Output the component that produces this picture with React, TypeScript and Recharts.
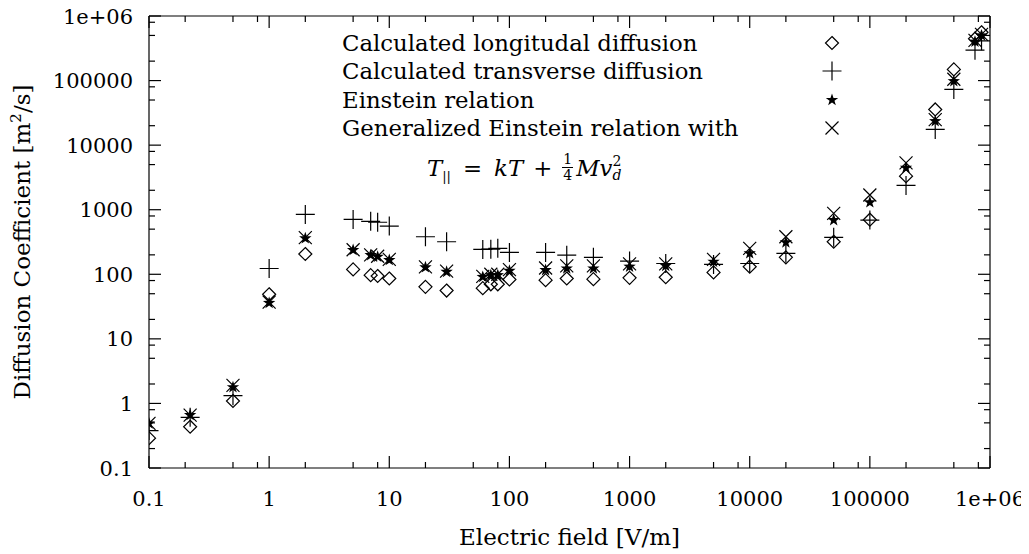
import React from "react";
import { ScatterChart, Scatter, XAxis, YAxis } from "recharts";

// electric field values (V/m) shared by all four series
const fieldValues = [0.1, 0.22, 0.5, 1, 2, 5, 7, 8, 10, 20, 30, 60, 70, 80, 100, 200, 300, 500, 1000, 2000, 5000, 10000, 20000, 50000, 100000, 200000, 350000, 500000, 750000, 850000];

const longitudinal = [0.29, 0.435, 1.09, 49, 206, 119, 97, 94, 86, 64, 56, 61, 70, 70, 83, 81, 86, 84, 88, 90, 107, 131, 183, 319, 700, 3310, 35700, 149000, 445000, 560000];
const transverse = [0.38, 0.61, 1.32, 123, 845, 708, 660, 640, 557, 381, 319, 243, 245, 252, 218, 218, 198, 183, 160, 147, 142, 147, 211, 373, 690, 2380, 17500, 72800, 296000, 412000];
const einstein = [0.49, 0.66, 1.78, 36, 360, 237, 198, 187, 166, 128, 109, 91, 97, 97, 113, 116, 123, 123, 131, 135, 156, 211, 312, 690, 1300, 4450, 23500, 98000, 400000, 500000];
const generalized = [0.49, 0.66, 1.9, 37, 370, 240, 200, 190, 170, 130, 112, 93, 100, 100, 118, 125, 135, 135, 145, 145, 170, 252, 381, 877, 1690, 5320, 24800, 105000, 420000, 520000];

const seriesNames = [
  "Calculated longitudal diffusion",
  "Calculated transverse diffusion",
  "Einstein relation",
  "Generalized Einstein relation with",
];

const majorTicks = [0.1, 1, 10, 100, 1000, 10000, 100000, 1000000];
const tickLabels = ["0.1", "1", "10", "100", "1000", "10000", "100000", "1e+06"];
const minorSteps = [2, 5, 8];

const allTicks = [
  ...majorTicks,
  ...majorTicks.slice(0, -1).flatMap((m) => minorSteps.map((s) => s * m)),
];

const toPoints = (ys: number[]) => fieldValues.map((x, i) => ({ x, y: ys[i] }));

const FONT = "DejaVu Serif";
const INK = "#000";

// marker shapes
const Diamond = ({ cx, cy }: any) => (
  <path d={`M${cx},${cy - 6.5}L${cx + 6.5},${cy}L${cx},${cy + 6.5}L${cx - 6.5},${cy}Z`} fill="none" stroke={INK} strokeWidth={1.2} />
);
const Plus = ({ cx, cy }: any) => (
  <path d={`M${cx - 9.5},${cy}H${cx + 9.5}M${cx},${cy - 9.5}V${cy + 9.5}`} fill="none" stroke={INK} strokeWidth={1.2} />
);
const Star = ({ cx, cy }: any) => {
  const pts = [];
  for (let k = 0; k < 10; k++) {
    const r = k % 2 === 0 ? 6.5 : 2.6;
    const a = -Math.PI / 2 + (k * Math.PI) / 5;
    pts.push(`${cx + r * Math.cos(a)},${cy + r * Math.sin(a)}`);
  }
  return <polygon points={pts.join(" ")} fill={INK} stroke="none" />;
};
const Cross = ({ cx, cy }: any) => (
  <path d={`M${cx - 6.5},${cy - 6.5}L${cx + 6.5},${cy + 6.5}M${cx - 6.5},${cy + 6.5}L${cx + 6.5},${cy - 6.5}`} fill="none" stroke={INK} strokeWidth={1.2} />
);
const markers = [Diamond, Plus, Star, Cross];

const isMajor = (v: number) => majorTicks.indexOf(v);

const BottomTick = (props: any) => {
  const { x, y, payload } = props;
  const i = isMajor(payload.value);
  return (
    <g>
      <line x1={x} y1={y} x2={x} y2={y - (i >= 0 ? 12 : 6)} stroke={INK} strokeWidth={1.2} />
      {i >= 0 && (
        <text x={x} y={y + 38} textAnchor="middle" fontFamily={FONT} fontSize={21} fill={INK}>
          {tickLabels[i]}
        </text>
      )}
    </g>
  );
};
const TopTick = (props: any) => {
  const { x, y, payload } = props;
  return (
    <g>
      <line x1={x} y1={y} x2={x} y2={y + (isMajor(payload.value) >= 0 ? 12 : 6)} stroke={INK} strokeWidth={1.2} />
    </g>
  );
};
const LeftTick = (props: any) => {
  const { x, y, payload } = props;
  const i = isMajor(payload.value);
  return (
    <g>
      <line x1={x} y1={y} x2={x + (i >= 0 ? 12 : 6)} y2={y} stroke={INK} strokeWidth={1.2} />
      {i >= 0 && (
        <text x={x - 16} y={y + 7.5} textAnchor="end" fontFamily={FONT} fontSize={21} fill={INK}>
          {tickLabels[i]}
        </text>
      )}
    </g>
  );
};
const RightTick = (props: any) => {
  const { x, y, payload } = props;
  return (
    <g>
      <line x1={x} y1={y} x2={x - (isMajor(payload.value) >= 0 ? 12 : 6)} y2={y} stroke={INK} strokeWidth={1.2} />
    </g>
  );
};

// key block drawn over the plot, top right
const KeyBlock = () => (
  <div style={{ position: "absolute", left: 334, top: 21, width: 560, fontFamily: FONT, fontSize: 22.8, color: INK }}>
    {seriesNames.map((name, i) => {
      const M = markers[i];
      return (
        <div key={name} style={{ position: "relative", height: 28.3, lineHeight: "28.3px", whiteSpace: "nowrap" }}>
          {name}
          <svg width={24} height={24} style={{ position: "absolute", left: 478, top: 2 }}>
            <M cx={12} cy={12} />
          </svg>
        </div>
      );
    })}
    <div style={{ height: 51, display: "flex", alignItems: "center", marginLeft: 85, whiteSpace: "nowrap" }}>
      <i>T</i>
      <span style={{ fontSize: 13, alignSelf: "flex-end", marginBottom: 9 }}>||</span>
      <span style={{ margin: "0 12px" }}>=</span>
      <i>kT</i>
      <span style={{ margin: "0 10px" }}>+</span>
      <span style={{ display: "inline-flex", flexDirection: "column", alignItems: "center", fontSize: 14, lineHeight: "15px", marginRight: 3 }}>
        <span>1</span>
        <span style={{ borderTop: "1px solid #000", padding: "0 1px" }}>4</span>
      </span>
      <i>Mv</i>
      <span style={{ display: "inline-flex", flexDirection: "column", fontSize: 14, lineHeight: "14px", fontStyle: "italic" }}>
        <span style={{ fontStyle: "normal" }}>2</span>
        <span>d</span>
      </span>
    </div>
  </div>
);

const App = () => {
  const series = [longitudinal, transverse, einstein, generalized];
  return (
    <div style={{ position: "relative", width: 1021, height: 546 }}>
      <ScatterChart width={1021} height={546} margin={{ top: 0, right: 29, left: 0, bottom: 0 }}>
        <XAxis dataKey="x" type="number" scale="log" domain={[0.1, 1000000]} allowDataOverflow ticks={allTicks} interval={0} height={86} tickSize={0} tickMargin={0} tick={<BottomTick />} stroke={INK} axisLine={{ stroke: INK, strokeWidth: 1.2 }} />
        <XAxis xAxisId="top" dataKey="x" orientation="top" type="number" scale="log" domain={[0.1, 1000000]} allowDataOverflow ticks={allTicks} interval={0} height={8} tickSize={0} tickMargin={0} tick={<TopTick />} stroke={INK} axisLine={{ stroke: INK, strokeWidth: 1.2 }} />
        <YAxis dataKey="y" type="number" scale="log" domain={[0.1, 1000000]} allowDataOverflow ticks={allTicks} interval={0} width={141} tickSize={0} tickMargin={0} tick={<LeftTick />} stroke={INK} axisLine={{ stroke: INK, strokeWidth: 1.2 }} />
        <YAxis yAxisId="r" dataKey="y" orientation="right" type="number" scale="log" domain={[0.1, 1000000]} allowDataOverflow ticks={allTicks} interval={0} width={10} tickSize={0} tickMargin={0} tick={<RightTick />} stroke={INK} axisLine={{ stroke: INK, strokeWidth: 1.2 }} />
        {series.map((ys, i) => {
          const M = markers[i];
          return (
            <Scatter
              key={seriesNames[i]}
              name={seriesNames[i]}
              data={toPoints(ys)}
              fill={INK}
              shape={(p: any) => <M cx={p.cx} cy={p.cy} />}
              isAnimationActive={false}
            />
          );
        })}
        {/* binds the mirror axes (top, right) so they draw the frame; no visible marks */}
        <Scatter name="mirror" xAxisId="top" yAxisId="r" data={toPoints(longitudinal)} fill="none" shape={() => <g />} isAnimationActive={false} />
      </ScatterChart>
      <KeyBlock />
      <div style={{ position: "absolute", left: 141, width: 841, top: 515, lineHeight: "28px", textAlign: "center", fontFamily: FONT, fontSize: 23, color: INK }}>
        Electric field [V/m]
      </div>
      <div style={{ position: "absolute", left: 14 - 200, top: 234 - 14, width: 400, lineHeight: "28px", textAlign: "center", transform: "rotate(-90deg)", fontFamily: FONT, fontSize: 23, color: INK, whiteSpace: "nowrap" }}>
        Diffusion Coefficient [m<sup style={{ fontSize: 15, lineHeight: 0 }}>2</sup>/s]
      </div>
    </div>
  );
};

export default App;
